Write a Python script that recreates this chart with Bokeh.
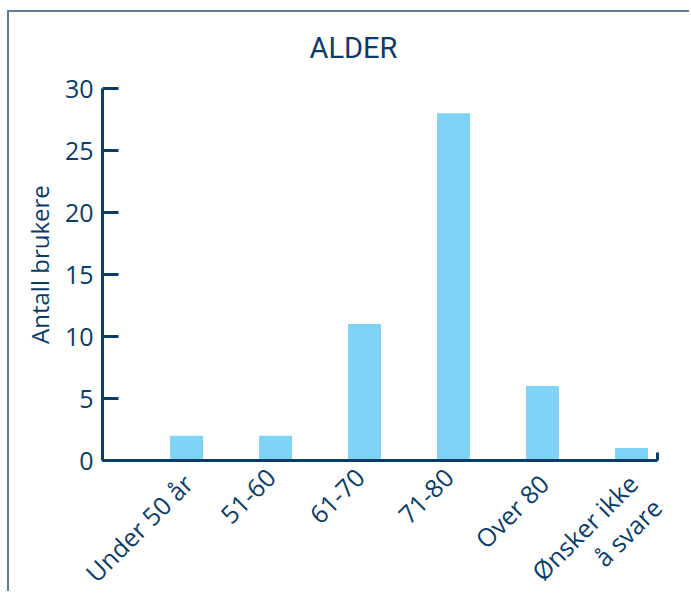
import math
from bokeh.plotting import figure
from bokeh.models import Range1d, FixedTicker, Label
from bokeh.embed import file_html
from bokeh.resources import INLINE

# Age groups and number of users in each
categories = ["Under 50 år", "51-60", "61-70", "71-80", "Over 80", "Ønsker ikke\nå svare"]
users = [2, 2, 11, 28, 6, 1]
y_ticks = [0, 5, 10, 15, 20, 25, 30]
title = "ALDER"
y_title = "Antall brukere"

NAVY = "#0b3c68"
BAR = "#7fd4f5"
FONT = "Open Sans"

# the plotting frame fills the whole canvas; axes are pinned inside it
X_START, X_END = -0.944, 5.292
Y_MAX = 30

xs = list(range(len(categories)))

p = figure(
    width=682, height=581, margin=(10, 0, 0, 7),
    output_backend="svg", toolbar_location=None,
    x_range=Range1d(-1.989, 5.674), y_range=Range1d(-10.726, 36.13),
    min_border=0,
)
p.styles = {"border-left": "2px solid #5f7d99", "border-top": "2px solid #5f7d99"}
p.outline_line_color = None
p.grid.grid_line_color = None

p.vbar(x=xs, top=users, width=0.37, color=BAR, line_color=None)

# x axis along y=0, with a closing tick at its right end only
xa = p.xaxis[0]
xa.fixed_location = 0
xa.bounds = (X_START, X_END)
xa.ticker = FixedTicker(ticks=[], minor_ticks=[X_END])
xa.major_tick_line_color = None
xa.major_label_text_font_size = "0px"
xa.minor_tick_in = 8
xa.minor_tick_out = 0
xa.minor_tick_line_color = NAVY
xa.minor_tick_line_width = 3
xa.axis_line_color = NAVY
xa.axis_line_width = 3

# y axis from 0 to 30 with inward ticks
ya = p.yaxis[0]
ya.fixed_location = X_START
ya.bounds = (0, Y_MAX)
ya.ticker = FixedTicker(ticks=y_ticks)
ya.minor_tick_line_color = None
ya.major_tick_in = 16
ya.major_tick_out = 0
ya.major_tick_line_color = NAVY
ya.major_tick_line_width = 3
ya.axis_line_color = NAVY
ya.axis_line_width = 3
ya.major_label_text_font = FONT
ya.major_label_text_font_size = "25px"
ya.major_label_text_color = NAVY
ya.major_label_standoff = 9

# slanted category labels, right end just under each bar
for i, cat in enumerate(categories):
    p.add_layout(Label(
        x=i - 0.12, y=-0.5, text=cat, angle=math.pi / 4,
        text_align="right", text_baseline="top",
        text_font=FONT, text_font_size="25px", text_color=NAVY,
        text_line_height=1.0,
    ))

p.add_layout(Label(
    x=-1.652, y=15.8, text=y_title, angle=math.pi / 2,
    text_align="center", text_baseline="middle",
    text_font=FONT, text_font_size="24px", text_color=NAVY,
))

p.add_layout(Label(
    x=1.876, y=33.27, text=title,
    text_align="center", text_baseline="middle",
    text_font="Roboto", text_font_size="29px", text_color=NAVY,
))

open("out.html", "w").write(file_html(p, INLINE))
